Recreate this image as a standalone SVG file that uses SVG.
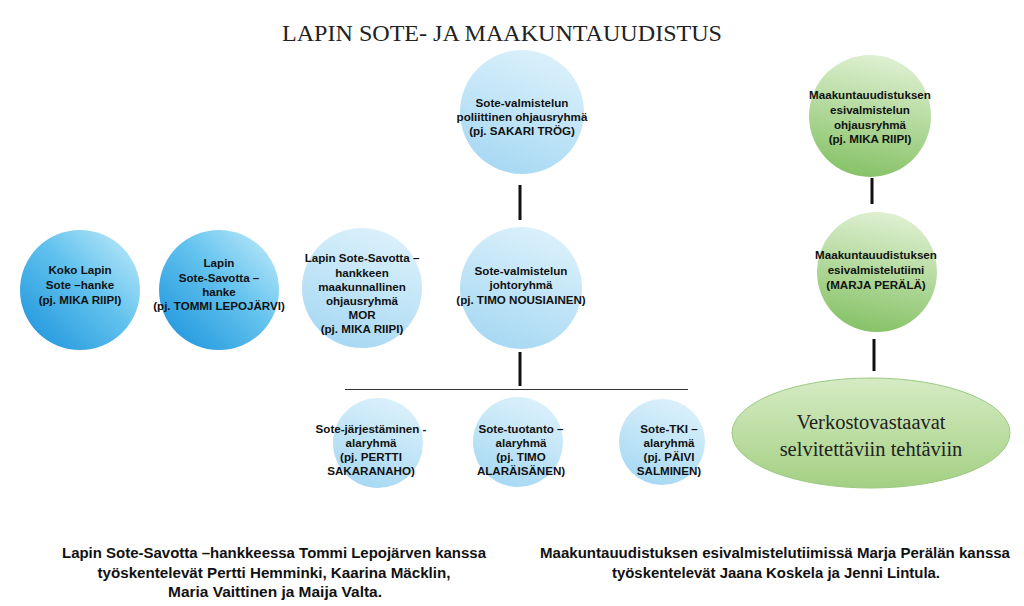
<svg xmlns="http://www.w3.org/2000/svg" width="1024" height="606" viewBox="0 0 1024 606">
<defs>
<linearGradient id="gDark" x1="1" y1="0" x2="0" y2="1">
<stop offset="0" stop-color="#c8eefb"/>
<stop offset="0.45" stop-color="#62c2ee"/>
<stop offset="1" stop-color="#1790da"/>
</linearGradient>
<linearGradient id="gLight" x1="0.7" y1="0" x2="0.3" y2="1">
<stop offset="0" stop-color="#dcf1fb"/>
<stop offset="1" stop-color="#a6d8f3"/>
</linearGradient>
<linearGradient id="gGreen" x1="0.6" y1="0" x2="0.4" y2="1">
<stop offset="0" stop-color="#dff0d2"/>
<stop offset="1" stop-color="#86c266"/>
</linearGradient>
<linearGradient id="gEll" x1="0" y1="0" x2="0" y2="1">
<stop offset="0" stop-color="#d6ebc4"/>
<stop offset="1" stop-color="#a3d083"/>
</linearGradient>
</defs>
<style>
.t{font-family:"Liberation Sans",Arial,sans-serif;font-weight:bold;font-size:11.6px;fill:#111;text-anchor:middle}
.ser{font-family:"Liberation Serif","Times New Roman",serif;fill:#222;text-anchor:middle}
.foot{font-family:"Liberation Sans",Arial,sans-serif;font-weight:bold;font-size:14px;fill:#111;text-anchor:middle}
.c{stroke:#111;stroke-width:3;fill:none}
</style>
<rect width="1024" height="606" fill="#ffffff"/>
<text class="ser" x="502" y="41" font-size="23" textLength="440" lengthAdjust="spacingAndGlyphs">LAPIN SOTE- JA MAAKUNTAUUDISTUS</text>

<g id="connectors">
<line class="c" x1="520" y1="185" x2="520" y2="220"/>
<line class="c" x1="520" y1="352" x2="520" y2="386"/>
<line x1="345" y1="389.5" x2="688" y2="389.5" stroke="#333" stroke-width="1.2"/>
<line class="c" x1="872" y1="178" x2="872" y2="204"/>
<line class="c" x1="874" y1="339" x2="874" y2="371"/>
</g>

<g id="koko-lapin">
<circle cx="80" cy="290" r="60" fill="url(#gDark)"/>
<text class="t" x="80" y="274">Koko Lapin</text>
<text class="t" x="80" y="289">Sote –hanke</text>
<text class="t" x="80" y="304">(pj. MIKA RIIPI)</text>
</g>

<g id="sote-savotta">
<circle cx="219" cy="290" r="60" fill="url(#gDark)"/>
<text class="t" x="219" y="267">Lapin</text>
<text class="t" x="219" y="282">Sote-Savotta –</text>
<text class="t" x="219" y="296">hanke</text>
<text class="t" x="219" y="310">(pj. TOMMI LEPOJÄRVI)</text>
</g>

<g id="mor">
<circle cx="362" cy="288" r="60" fill="url(#gLight)"/>
<text class="t" x="362" y="262">Lapin Sote-Savotta –</text>
<text class="t" x="362" y="277">hankkeen</text>
<text class="t" x="362" y="291">maakunnallinen</text>
<text class="t" x="362" y="305">ohjausryhmä</text>
<text class="t" x="362" y="319">MOR</text>
<text class="t" x="362" y="333">(pj. MIKA RIIPI)</text>
</g>

<g id="poliittinen">
<circle cx="522" cy="112" r="62" fill="url(#gLight)"/>
<text class="t" x="522" y="107">Sote-valmistelun</text>
<text class="t" x="522" y="121">poliittinen ohjausryhmä</text>
<text class="t" x="522" y="135">(pj. SAKARI TRÖG)</text>
</g>

<g id="johtoryhma">
<circle cx="521" cy="288" r="61" fill="url(#gLight)"/>
<text class="t" x="521" y="275">Sote-valmistelun</text>
<text class="t" x="521" y="289">johtoryhmä</text>
<text class="t" x="521" y="304">(pj. TIMO NOUSIAINEN)</text>
</g>

<g id="jarjestaminen">
<circle cx="378" cy="443" r="45" fill="url(#gLight)"/>
<text class="t" x="371" y="433">Sote-järjestäminen -</text>
<text class="t" x="371" y="447">alaryhmä</text>
<text class="t" x="371" y="461">(pj. PERTTI</text>
<text class="t" x="371" y="475">SAKARANAHO)</text>
</g>

<g id="tuotanto">
<circle cx="518" cy="442" r="45" fill="url(#gLight)"/>
<text class="t" x="521" y="433">Sote-tuotanto –</text>
<text class="t" x="521" y="447">alaryhmä</text>
<text class="t" x="521" y="461">(pj. TIMO</text>
<text class="t" x="521" y="475">ALARÄISÄNEN)</text>
</g>

<g id="tki">
<circle cx="662" cy="442" r="43" fill="url(#gLight)"/>
<text class="t" x="669" y="433">Sote-TKI –</text>
<text class="t" x="669" y="447">alaryhmä</text>
<text class="t" x="669" y="461">(pj. PÄIVI</text>
<text class="t" x="669" y="475">SALMINEN)</text>
</g>

<g id="maak-ohjausryhma">
<circle cx="870" cy="116" r="61" fill="url(#gGreen)"/>
<text class="t" x="870" y="99">Maakuntauudistuksen</text>
<text class="t" x="870" y="114">esivalmistelun</text>
<text class="t" x="870" y="129">ohjausryhmä</text>
<text class="t" x="870" y="143">(pj. MIKA RIIPI)</text>
</g>

<g id="maak-tiimi">
<circle cx="877" cy="272" r="60" fill="url(#gGreen)"/>
<text class="t" x="876" y="259">Maakuntauudistuksen</text>
<text class="t" x="876" y="274">esivalmistelutiimi</text>
<text class="t" x="876" y="289">(MARJA PERÄLÄ)</text>
</g>

<g id="verkostovastaavat">
<ellipse cx="871" cy="433" rx="139" ry="55" fill="url(#gEll)" stroke="#9cc982" stroke-width="1"/>
<text class="ser" x="871" y="429" font-size="20.5">Verkostovastaavat</text>
<text class="ser" x="871" y="456" font-size="20.5">selvitettäviin tehtäviin</text>
</g>

<g id="footnotes">
<text class="foot" x="274" y="558" textLength="424" lengthAdjust="spacingAndGlyphs">Lapin Sote-Savotta –hankkeessa Tommi Lepojärven kanssa</text>
<text class="foot" x="274" y="578" textLength="353" lengthAdjust="spacingAndGlyphs">työskentelevät Pertti Hemminki, Kaarina Mäcklin,</text>
<text class="foot" x="275" y="597" textLength="214" lengthAdjust="spacingAndGlyphs">Maria Vaittinen ja Maija Valta.</text>
<text class="foot" x="775" y="558" textLength="470" lengthAdjust="spacingAndGlyphs">Maakuntauudistuksen esivalmistelutiimissä Marja Perälän kanssa</text>
<text class="foot" x="776" y="578" textLength="328" lengthAdjust="spacingAndGlyphs">työskentelevät Jaana Koskela ja Jenni Lintula.</text>
</g>
</svg>
